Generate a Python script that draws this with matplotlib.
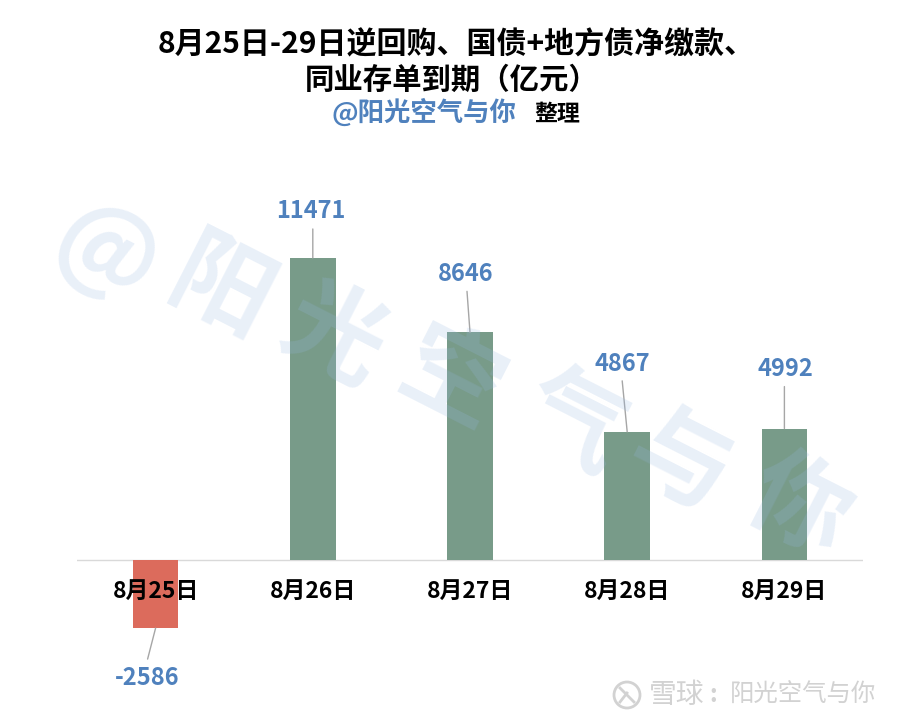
import matplotlib
matplotlib.use("Agg")
import matplotlib.pyplot as plt
from matplotlib.patches import Circle

plt.rcParams["font.family"] = ["Noto Sans CJK SC", "DejaVu Sans"]

W, H = 903, 723

days = ["8月25日", "8月26日", "8月27日", "8月28日", "8月29日"]
values = [-2586, 11471, 8646, 4867, 4992]
# offsets from the bar end, in pixels: value label centre and leader line end
label_dx = [-8, -2, -4, -5, 1]
label_dy = [-50, 47, 58, 68, 60]
leader_dx = [-8, 0, -3, -5, 0]
leader_dy = [-31, 29, 41, 51, 42]

GREEN = "#789b89"
RED = "#dc6b5c"
BLUE = "#4f81bd"
WM = "#96b8e2"
FOOT = "#d2d2d2"


def fx(px):
    return px / W


def fy(py):
    return 1 - py / H


fig = plt.figure(figsize=(W / 100, H / 100), dpi=100, facecolor="white")

ax = fig.add_axes([fx(77), fy(660), fx(863) - fx(77), (660 - 191.4) / H], zorder=1)
ax.patch.set_alpha(0)
ax.set_xlim(-0.5, 4.5)
ax.set_ylim(-3798, 14000)

colors = [RED if v < 0 else GREEN for v in values]
ax.bar(range(len(days)), values, width=0.29, color=colors, zorder=2)
ax.axhline(0, color="#d9d9d9", lw=1, zorder=1)

for i, v in enumerate(values):
    ax.annotate("", xy=(i, v), xytext=(leader_dx[i] * 0.72, leader_dy[i] * 0.72),
                textcoords="offset points",
                arrowprops=dict(arrowstyle="-", color="#a6a6a6", lw=1, shrinkA=0, shrinkB=0))
    ax.annotate(f"{v}", xy=(i, v), xytext=(label_dx[i] * 0.72, label_dy[i] * 0.72),
                textcoords="offset points", ha="center", va="center",
                fontsize=17, fontweight="bold", color=BLUE)

ax.set_xticks([])
ax.set_yticks([])
for s in ax.spines.values():
    s.set_visible(False)
for i, d in enumerate(days):
    ax.annotate(d, xy=(i, 0), xytext=(0, -31 * 0.72), textcoords="offset points", ha="center",
                va="center", fontsize=16.5, fontweight="bold", color="black", zorder=5)

# big diagonal name, translucent over the bars
wm_chars = ["@", "阳", "光", "空", "气", "与", "你"]
wm_x = [105, 221, 334, 450, 573, 679, 798]
wm_y = [255, 291, 337, 382, 424, 464, 507]
for ch, x, y in zip(wm_chars, wm_x, wm_y):
    fig.text(fx(x), fy(y), ch, fontsize=72, fontweight="bold", color=WM, alpha=0.21, rotation=-27,
             rotation_mode="anchor", ha="center", va="center", zorder=2)

fig.text(fx(456), fy(44), "8月25日-29日逆回购、国债+地方债净缴款、", fontsize=21.6, fontweight="bold",
         ha="center", va="center")
fig.text(fx(452), fy(80), "同业存单到期（亿元）", fontsize=21.2, fontweight="bold", ha="center", va="center")
fig.text(fx(424), fy(113), "@阳光空气与你", fontsize=19, fontweight="bold", color=BLUE,
         ha="center", va="center")
fig.text(fx(557), fy(114), "整理", fontsize=16.5, fontweight="bold", ha="center", va="center")

# xueqiu footer: round logo with a cross, then the account name
to_in = fig.dpi_scale_trans
fig.add_artist(Circle((6.27, 0.28), 0.13, transform=to_in, fill=False, ec=FOOT, lw=2))
fig.add_artist(plt.Line2D([6.20, 6.34], [0.35, 0.21], transform=to_in, color=FOOT, lw=2))
fig.add_artist(plt.Line2D([6.20, 6.27], [0.21, 0.30], transform=to_in, color=FOOT, lw=2))
fig.text(fx(677), fy(695), "雪球", fontsize=20, color=FOOT, ha="center", va="center")
fig.text(fx(713), fy(695), ":", fontsize=17, fontweight="bold", color=FOOT, ha="center", va="center")
fig.text(fx(803.5), fy(695), "阳光空气与你", fontsize=17.6, color=FOOT, ha="center", va="center")

fig.savefig("out.png", dpi=100, facecolor="white")
